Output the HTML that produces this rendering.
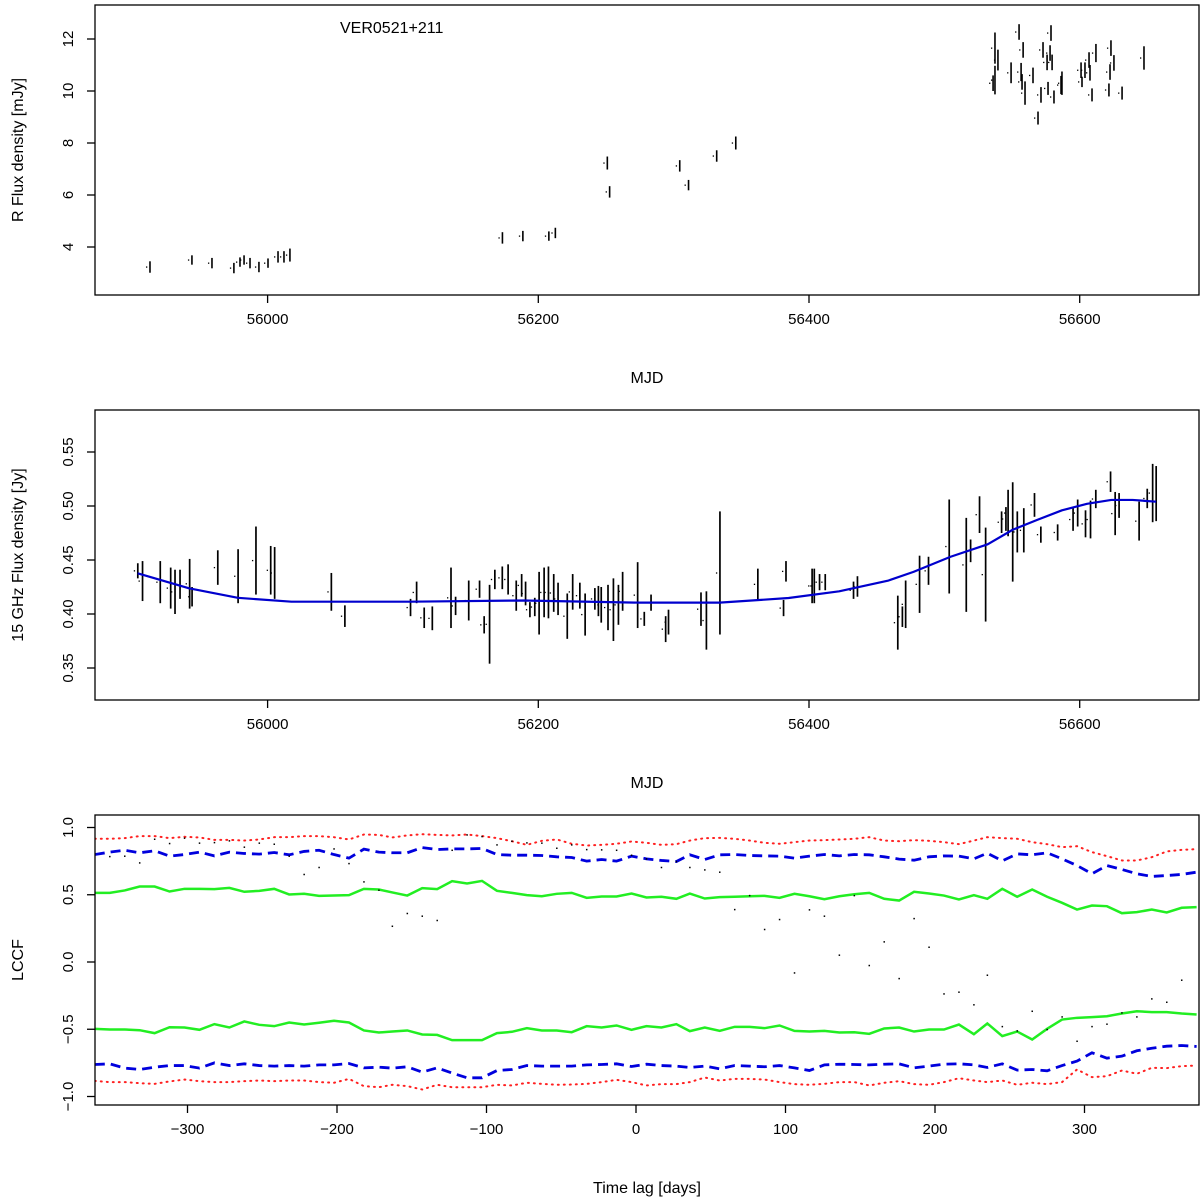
<!DOCTYPE html>
<html><head><meta charset="utf-8"><style>
html,body{margin:0;padding:0;background:#fff}
svg{display:block}
text{font-family:"Liberation Sans",sans-serif;fill:#000}
</style></head><body>
<svg id="chart" width="1200" height="1200" viewBox="0 0 1200 1200" xmlns="http://www.w3.org/2000/svg">
<defs>
<clipPath id="c1"><rect x="95" y="5" width="1104" height="290"/></clipPath>
<clipPath id="c2"><rect x="95" y="410" width="1104" height="290"/></clipPath>
<clipPath id="c3"><rect x="95" y="815" width="1104" height="291"/></clipPath>
</defs>
<g id="p1"></g>
<g id="p2"></g>
<g id="p3"></g>
</svg>
<script>
// ---- Panel 1: R-band flux (MJD, flux, err)
const p1Mjd=[55913.1,55944.1,55958.9,55975.1,55979.6,55982.6,55987,55993.6,56000.3,56007.7,56012.1,56016.5,
56173.5,56188.6,56207.8,56212.6,56251,56252.7,56304.5,56311,56331.8,56345.9,
56537.4,56539.6,56537.4,56536,56549.3,56555.2,56558.2,56556.7,56557.4,56559.6,56565.5,56569.2,56571.4,56572.9,56575.9,56576.6,56578.8,56578.1,56579.6,56581,56586.2,56586.9,56601,56601.7,56603.9,56607.6,56606.9,56612,56609.1,56621.6,56623.1,56622.4,56625.3,56631.3,56647.5];
const p1Flux=[3.23,3.5,3.38,3.19,3.42,3.5,3.38,3.23,3.38,3.62,3.62,3.69,
4.35,4.42,4.42,4.54,7.23,6.12,7.12,6.38,7.5,8.0,
11.65,11.19,10.42,10.3,10.7,12.27,11.58,10.73,10.35,9.92,10.6,8.96,9.85,11.58,11.1,10.1,12.23,11.46,11.1,9.77,10.23,10.3,10.8,10.35,10.8,10.7,11.19,11.46,9.85,10.04,11.65,10.73,11.08,9.92,11.27];
const p1Err=[0.22,0.18,0.2,0.2,0.18,0.18,0.2,0.2,0.18,0.22,0.22,0.25,
0.22,0.2,0.18,0.2,0.25,0.22,0.22,0.2,0.22,0.25,
0.6,0.4,0.55,0.3,0.4,0.3,0.3,0.35,0.3,0.45,0.3,0.25,0.3,0.3,0.3,0.25,0.3,0.3,0.3,0.25,0.35,0.45,0.3,0.2,0.3,0.3,0.3,0.35,0.25,0.25,0.3,0.3,0.3,0.25,0.45];
const p1YTicks=[4,6,8,10,12];
const mjdTicks=[56000,56200,56400,56600];

// ---- Panel 2: 15 GHz flux (MJD, low, high)
const p2Mjd=[55904.1,55907.6,55920.7,55928.4,55931.6,55935.3,55942.4,55944.2,55963.2,55978.2,55991.4,56002.3,56005.2,56047.1,56057.1,56105.6,56110.1,56115.7,56121.7,56135.5,56138.9,56148.6,56156.6,56160,56164,56167.9,56173.4,56177.7,56183.7,56187.7,56190.6,56193.8,56197.4,56200.6,56204.3,56207.5,56211.4,56214.6,56221.4,56225.4,56230.7,56234.6,56241.8,56244.4,56246.5,56251.5,56255.5,56259.2,56262.3,56273.4,
56278.3,56283.3,56294.1,56296.2,56320.2,56324.2,56334.2,56362.2,56381.2,56383,56402.3,56403.9,56407.8,56412,56432.9,56435.8,56465.6,56469,56471.4,56481.7,56488.3,56503.6,56516.2,56519.4,56526,56530.5,56542.3,56545.5,56547.1,56550.5,56553.9,56558.7,56566.6,56571.3,56583.7,56595.1,56598.5,56604.3,56608,56611.9,56622.8,56626.2,56629.1,56643.9,56649.9,56653.9,56656.5];
const p2Hi=[.447,.449,.449,.443,.441,.441,.451,.425,.459,.460,.481,.463,.462,.438,.408,.414,.430,.406,.407,.443,.416,.431,.431,.398,.427,.441,.444,.446,.431,.437,.430,.411,.415,.439,.443,.444,.437,.429,.419,.437,.429,.419,.424,.426,.425,.427,.433,.427,.439,.448,
.402,.418,.398,.404,.420,.421,.495,.442,.413,.449,.442,.442,.437,.437,.430,.435,.417,.407,.431,.454,.453,.506,.489,.469,.509,.480,.495,.499,.515,.522,.495,.498,.512,.481,.483,.498,.506,.496,.505,.515,.532,.513,.512,.504,.516,.539,.537];
const p2Lo=[.433,.412,.410,.405,.400,.414,.405,.407,.427,.410,.418,.418,.414,.403,.388,.398,.410,.387,.385,.387,.399,.394,.415,.382,.354,.423,.423,.418,.403,.416,.408,.397,.398,.381,.397,.396,.402,.399,.377,.404,.405,.380,.404,.398,.392,.385,.375,.390,.403,.387,
.389,.403,.374,.381,.389,.367,.381,.413,.398,.430,.410,.410,.422,.422,.414,.416,.367,.388,.387,.401,.427,.419,.402,.448,.475,.393,.475,.477,.472,.430,.457,.457,.490,.466,.468,.477,.481,.471,.470,.498,.513,.473,.489,.468,.498,.485,.486];
const fitMjd=[55904,55942,55978,56017.6,56105.6,56189,56275,56334,56384.9,56422.3,56458.7,56477.2,56504.6,56532,56550.5,56568.4,56586.9,56605.4,56623.3,56639.1,56656.5];
const fitFlux=[.4377,.4238,.415,.4114,.4114,.4125,.4105,.4105,.4148,.421,.431,.439,.453,.4645,.478,.487,.496,.502,.5056,.5056,.504];
const p2YTicks=[0.35,0.40,0.45,0.50,0.55];
const p2YLabels=["0.35","0.40","0.45","0.50","0.55"];

// ---- Panel 3: LCCF
const lags=[-362,-352,-342,-332,-322,-312,-302,-292,-282,-272,-262,-252,-242,-232,-222,-212,-202,-192,-182,-172,
-163,-153,-143,-133,-123,-113,-103,-93,-83,-73,-63,-53,-43,-33,-23,-13,-3,7,17,27,
36,46,56,66,76,86,96,106,116,126,136,146,156,166,176,186,196,206,216,226,
235,245,255,265,275,285,295,305,315,325,335,345,355,365,375];
const greenUp=[.514,.514,.532,.561,.561,.524,.544,.544,.542,.551,.522,.529,.544,.502,.507,.492,.494,.497,.544,.539,.517,.494,.549,.542,.601,.584,.603,.529,.514,.497,.489,.507,.514,.477,.487,.487,.509,.480,
.485,.470,.509,.472,.482,.485,.489,.492,.477,.507,.489,.467,.489,.504,.514,.470,.457,.522,.509,.494,.465,.497,.470,.544,.485,.539,.485,.440,.390,.420,.415,.363,.371,.390,.368,.403,.408];
const greenLo=[-.497,-.502,-.502,-.507,-.529,-.485,-.487,-.504,-.462,-.487,-.442,-.467,-.477,-.450,-.465,-.452,-.437,-.450,-.509,-.524,-.517,-.509,-.539,-.542,-.581,-.581,-.581,-.529,-.519,-.492,-.509,-.509,-.522,-.477,-.487,-.472,-.504,-.477,
-.487,-.462,-.514,-.487,-.512,-.482,-.482,-.492,-.472,-.512,-.517,-.512,-.524,-.522,-.534,-.494,-.487,-.517,-.502,-.502,-.465,-.537,-.457,-.551,-.517,-.576,-.497,-.428,-.415,-.410,-.403,-.383,-.366,-.373,-.373,-.383,-.390];
const blueUp=[.799,.817,.831,.812,.827,.787,.799,.817,.789,.817,.807,.802,.814,.797,.822,.831,.799,.772,.839,.817,.812,.812,.851,.836,.841,.841,.844,.799,.794,.794,.792,.782,.777,.750,.762,.750,.787,.767,
.755,.747,.797,.762,.797,.799,.792,.789,.787,.772,.787,.799,.789,.799,.797,.782,.765,.757,.782,.789,.787,.767,.809,.752,.804,.797,.812,.767,.717,.656,.717,.688,.656,.636,.643,.651,.668];
const blueLo=[-.762,-.757,-.789,-.799,-.782,-.770,-.770,-.789,-.750,-.770,-.757,-.770,-.774,-.770,-.774,-.765,-.765,-.755,-.787,-.782,-.789,-.779,-.819,-.787,-.826,-.861,-.861,-.807,-.799,-.770,-.774,-.774,-.774,-.765,-.762,-.757,-.777,-.760,
-.770,-.774,-.784,-.774,-.794,-.770,-.774,-.779,-.770,-.787,-.807,-.765,-.760,-.762,-.765,-.760,-.757,-.787,-.774,-.760,-.757,-.765,-.784,-.757,-.804,-.799,-.809,-.770,-.737,-.675,-.715,-.700,-.660,-.641,-.626,-.621,-.628];
const redUp=[.916,.916,.921,.936,.936,.921,.931,.926,.908,.908,.903,.911,.928,.928,.936,.936,.928,.911,.948,.945,.926,.941,.950,.945,.941,.948,.936,.921,.898,.871,.901,.911,.879,.866,.871,.879,.896,.886,
.871,.876,.903,.921,.923,.916,.903,.886,.879,.891,.903,.906,.911,.916,.928,.903,.898,.906,.901,.891,.876,.903,.928,.921,.916,.891,.876,.854,.861,.817,.787,.755,.755,.779,.822,.834,.839];
const redLo=[-.884,-.893,-.893,-.901,-.906,-.888,-.874,-.886,-.893,-.893,-.886,-.881,-.886,-.881,-.881,-.893,-.898,-.869,-.923,-.931,-.913,-.923,-.948,-.913,-.931,-.931,-.931,-.913,-.918,-.898,-.906,-.913,-.911,-.906,-.893,-.876,-.893,-.918,
-.908,-.908,-.893,-.859,-.881,-.869,-.869,-.874,-.893,-.908,-.913,-.906,-.893,-.893,-.918,-.898,-.886,-.908,-.913,-.893,-.864,-.881,-.893,-.881,-.913,-.898,-.908,-.893,-.799,-.856,-.849,-.807,-.831,-.787,-.789,-.774,-.770];
const lccf=[null,.784,.787,.737,.913,.881,.921,.884,.888,.901,.854,.884,.876,.787,.651,.703,.841,.732,.596,.534,.266,.361,.341,.309,.831,.945,.933,.871,.898,.886,.884,.846,.871,.836,.834,.831,.794,.767,
.703,.747,.703,.685,.668,.390,.494,.242,.316,-.081,.388,.341,.051,.494,-.026,.150,-.123,.323,.110,-.237,-.224,-.318,-.098,-.480,-.512,-.366,-.502,-.408,-.589,-.480,-.462,-.378,-.408,-.274,-.299,-.135,null];
const lagTicks=[-300,-200,-100,0,100,200,300];
const p3YTicks=[-1,-0.5,0,0.5,1];
const p3YLabels=["\u22121.0","\u22120.5","0.0","0.5","1.0"];

const NS='http://www.w3.org/2000/svg';
function mk(parent,tag,attrs){const e=document.createElementNS(NS,tag);for(const k in attrs)e.setAttribute(k,attrs[k]);parent.appendChild(e);return e;}

// axis functions
const xMjd=m=>267.6+(m-56000)*1.3535;
const y1=f=>39+(12-f)*26;
const y2=f=>614-(f-0.4)*1080;
const xLag=l=>636+l*1.495;
const y3=v=>962-v*134.5;

function frame(g,top,name){
  const r=mk(g,'rect',{x:95,y:top,width:1104,height:290,fill:'none',stroke:'#000','stroke-width':1.3});
  
  
}
function xAxis(g,ticks,labels,fx,bottom,title,name){
  const ax=mk(g,'g',{});
  
  
  ticks.forEach((t,i)=>{
    const x=fx(t);
    mk(ax,'line',{x1:x,x2:x,y1:bottom,y2:bottom+8,stroke:'#000','stroke-width':1.3});
    const tx=mk(ax,'text',{x:x,y:bottom+29,'text-anchor':'middle','font-size':15});
    tx.textContent=labels[i];
    
    
  });
  const tt=mk(g,'text',{x:647,y:bottom+88,'text-anchor':'middle','font-size':16});
  tt.textContent=title;
  
  
}
function yAxis(g,ticks,labels,fy,title,cy,name){
  const ax=mk(g,'g',{});
  
  
  ticks.forEach((t,i)=>{
    const y=fy(t);
    mk(ax,'line',{x1:87,x2:95,y1:y,y2:y,stroke:'#000','stroke-width':1.3});
    const tx=mk(ax,'text',{x:0,y:0,'text-anchor':'middle','font-size':15,transform:`translate(73,${y}) rotate(-90)`});
    tx.textContent=labels[i];
    
    
  });
  const tt=mk(g,'text',{x:0,y:0,'text-anchor':'middle','font-size':16,transform:`translate(23,${cy}) rotate(-90)`});
  tt.textContent=title;
  
  
}

// Panel 1
(function(){
  const g=document.getElementById('p1');
  const pts=mk(g,'g',{'clip-path':'url(#c1)'});
  
  
  p1Mjd.forEach((m,i)=>{
    const x=xMjd(m);
    const b=mk(pts,'line',{x1:x,x2:x,y1:y1(p1Flux[i]+p1Err[i]),y2:y1(p1Flux[i]-p1Err[i]),stroke:'#000','stroke-width':1.6});
    
    
    const d=mk(pts,'rect',{x:x-4,y:y1(p1Flux[i])-0.6,width:1.3,height:1.3,fill:'#000'});
    
    
  });
  frame(g,5,'optical');
  xAxis(g,mjdTicks,mjdTicks.map(String),xMjd,295,'MJD','optical');
  yAxis(g,p1YTicks,p1YTicks.map(String),y1,'R Flux density [mJy]',150,'optical');
  const t=mk(g,'text',{x:340,y:33,'font-size':16});
  t.textContent='VER0521+211';
  
  
})();

// Panel 2
(function(){
  const g=document.getElementById('p2');
  const pts=mk(g,'g',{'clip-path':'url(#c2)'});
  
  
  p2Mjd.forEach((m,i)=>{
    const x=xMjd(m);
    const b=mk(pts,'line',{x1:x,x2:x,y1:y2(p2Hi[i]),y2:y2(p2Lo[i]),stroke:'#000','stroke-width':1.7});
    
    
    const d=mk(pts,'rect',{x:x-4,y:y2((p2Hi[i]+p2Lo[i])/2)-0.6,width:1.3,height:1.3,fill:'#000'});
    
    
  });
  const fit=mk(g,'polyline',{points:fitMjd.map((m,i)=>xMjd(m)+','+y2(fitFlux[i])).join(' '),fill:'none',stroke:'#0000cd','stroke-width':2.2,'stroke-linejoin':'round','clip-path':'url(#c2)'});
  
  
  frame(g,410,'radio');
  xAxis(g,mjdTicks,mjdTicks.map(String),xMjd,700,'MJD','radio');
  yAxis(g,p2YTicks,p2YLabels,y2,'15 GHz Flux density [Jy]',555,'radio');
})();

// Panel 3
(function(){
  const g=document.getElementById('p3');
  const cg=mk(g,'g',{'clip-path':'url(#c3)'});
  function line(vals,color,w,dash,name){
    const p=mk(cg,'polyline',{points:lags.map((l,i)=>xLag(l)+','+y3(vals[i])).join(' '),fill:'none',stroke:color,'stroke-width':w,'stroke-dasharray':dash,'stroke-linecap':dash==='1 5'?'round':'butt'});
    
    
  }
  line(redUp,'#ff2020',2,'1 5','upper-99-confidence');
  line(redLo,'#ff2020',2,'1 5','lower-99-confidence');
  line(blueUp,'#0000dd',2.8,'10 6','upper-95-confidence');
  line(blueLo,'#0000dd',2.8,'10 6','lower-95-confidence');
  line(greenUp,'#22ee22',2.5,'none','upper-68-confidence');
  line(greenLo,'#22ee22',2.5,'none','lower-68-confidence');
  lccf.forEach((v,i)=>{
    if(v===null)return;
    const d=mk(cg,'rect',{x:xLag(lags[i])-0.7,y:y3(v)-0.7,width:1.5,height:1.5,fill:'#000'});
    
    
  });
  frame(g,815,'lccf');
  xAxis(g,lagTicks,lagTicks.map(t=>t<0?'\u2212'+(-t):String(t)),xLag,1105,'Time lag [days]','lccf');
  yAxis(g,p3YTicks,p3YLabels,y3,'LCCF',960,'lccf');
})();
</script>
</body></html>
